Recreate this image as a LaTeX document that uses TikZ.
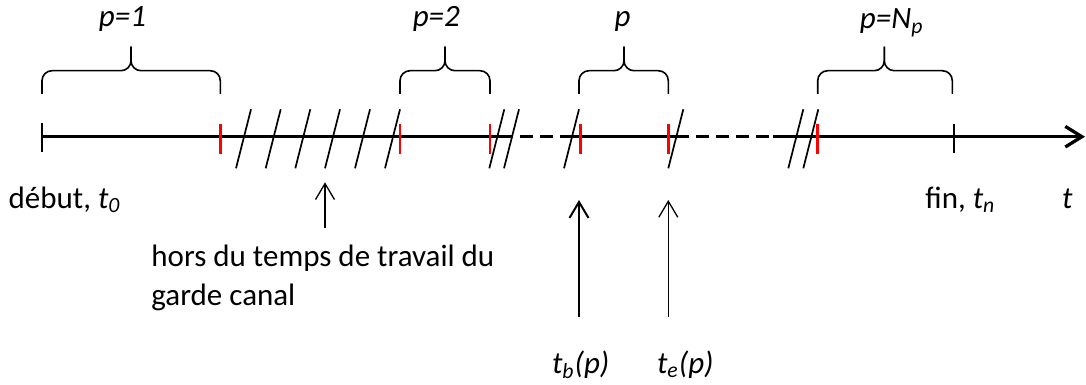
\documentclass[tikz,border=0pt]{standalone}
\usepackage{fontspec}
\setmainfont{Carlito}
\usetikzlibrary{arrows.meta,positioning,calc}
\definecolor{markred}{RGB}{255,0,0}
\tikzset{
  axisline/.style={line width=1.65pt},
  gapline/.style={axisline,dash pattern=on 6.5pt off 3.5pt},
  endtick/.style={line width=1.3pt},
  redtick/.style={line width=1.3pt,draw=markred},
  cut/.style={line width=0.85pt},
  brc/.style={line width=0.8pt,rounded corners=5pt},
  lbl/.style={inner sep=0pt,anchor=base west},
  plab/.style={inner sep=0pt,anchor=base},
  pointer/.style={-{Straight Barb[length=8pt,width=9.5pt]},line width=0.65pt},
}
\begin{document}
\begin{tikzpicture}[x=0.5pt,y=-0.5pt,font=\fontsize{15.5}{19.2}\selectfont]
  \useasboundingbox (0,0) rectangle (1086,385);
  \def\ya{136.7}
  % time axis
  \coordinate (t0) at (42,\ya);
  \coordinate (tend) at (1085,\ya);
  \draw[axisline] (t0) -- (500,\ya);
  \draw[gapline] (500,\ya) -- (572,\ya);
  \draw[axisline] (572,\ya) -- (676,\ya);
  \draw[gapline] (676,\ya) -- (773,\ya);
  \draw[axisline,-{Straight Barb[length=8.3pt,width=10.3pt]}] (773,\ya) -- (tend);
  \draw[endtick] (42,122.7) -- (42,151.7);
  \draw[endtick] (954,124) -- (954,153);
  \foreach \x in {220.3,400,490,580.7,668.3,817.7}
    \draw[redtick] (\x,124) -- (\x,154);
  % cuts
  \foreach \x in {236,265.7,295.3,325,355,385,489.3,504,564,668.3,788.3,803.3}
    \draw[cut] (\x,168.3) -- ++(15,-59);
  % braces
  \foreach \a/\m/\b [count=\i] in {42/131/220.3,400/445/490,579/624/668.3,817.7/884.3/952.3}{
    \draw[brc] (\a,94) -- (\a,70.7) -- (\m,70.7) -- (\m,46.7);
    \draw[brc] (\b,94) -- (\b,70.7) -- (\m,70.7) -- (\m,46.7);
  }
  \node[plab] (p1) at (122.5,26.7) {\textit{p=1}};
  \node[plab] (p2) at (436.3,26.7) {\textit{p=2}};
  \node[plab] (pp) at (622.5,26.7) {\textit{p}};
  \node[plab] (pn) at (891.7,29) {\textit{p=N\textsubscript{p}}};
  % labels under the axis
  \node[lbl] (debut) at (8.3,208.3) {début, \textit{t\textsubscript{0}}};
  \node[lbl] (fin) at (925,208.3) {fin, \textit{t\textsubscript{n}}};
  \node[lbl] (tlab) at (1061.7,208.3) {\textit{t}};
  \node[lbl,align=left] (hors) at (151,305) {hors du temps de travail du\\garde canal};
  \node[lbl] (tb) at (551.7,373) {\textit{t\textsubscript{b}(p)}};
  \node[lbl] (te) at (656.7,373) {\textit{t\textsubscript{e}(p)}};
  % pointers
  \coordinate (hbot) at (325,228.3);
  \coordinate (htop) at (325,182.3);
  \coordinate (tbbot) at (579,316.7);
  \coordinate (tbtop) at (579,200);
  \coordinate (tebot) at (668.3,316.7);
  \coordinate (tetop) at (668.3,200);
  \draw[pointer] (hbot) -- (htop);
  \draw[pointer,line width=1pt] (tbbot) -- (tbtop);
  \draw[pointer] (tebot) -- (tetop);
\end{tikzpicture}
\end{document}
